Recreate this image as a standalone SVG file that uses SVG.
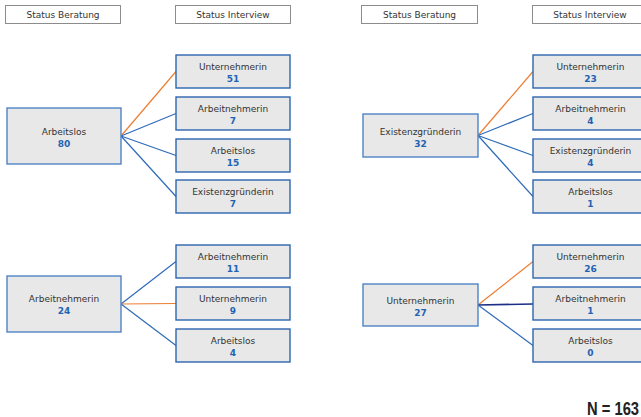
<svg xmlns="http://www.w3.org/2000/svg" width="641" height="417" viewBox="0 0 641 417">
<style>
.hdr{fill:#ffffff;stroke:#8c8c8c;stroke-width:1}
.par{fill:#e8e8e8;stroke:#4f84c4;stroke-width:1.4}
.chd{fill:#e8e8e8;stroke:#2d65b0;stroke-width:1.4}
.t{font-family:"DejaVu Sans",Verdana,sans-serif;font-size:9px;fill:#333333;text-anchor:middle}
.n{font-family:"DejaVu Sans",Verdana,sans-serif;font-size:9px;font-weight:bold;fill:#1f63b5;text-anchor:middle}
.c{fill:none;stroke-width:1.2}
.o{stroke:#ed7d31}
.b{stroke:#2e6bb8}
.d{stroke:#1c2f86;stroke-width:1.6}
</style>
<rect width="641" height="417" fill="#ffffff"/>
<g id="headers">
<g id="h1"><rect class="hdr" x="5.5" y="5.5" width="115" height="18"/><text class="t" x="63" y="17.5">Status Beratung</text></g>
<g id="h2"><rect class="hdr" x="175.5" y="5.5" width="115" height="18"/><text class="t" x="233" y="17.5">Status Interview</text></g>
<g id="h3"><rect class="hdr" x="361.5" y="5.5" width="116" height="18"/><text class="t" x="419.5" y="17.5">Status Beratung</text></g>
<g id="h4"><rect class="hdr" x="532.5" y="5.5" width="115" height="18"/><text class="t" x="590" y="17.5">Status Interview</text></g>
</g>
<g id="connectors">
<line class="c o" x1="121" y1="136" x2="176" y2="71.5"/>
<line class="c b" x1="121" y1="136" x2="176" y2="113.5"/>
<line class="c b" x1="121" y1="136" x2="176" y2="155.5"/>
<line class="c b" x1="121" y1="136" x2="176" y2="196.5"/>
<line class="c o" x1="478" y1="135.5" x2="533" y2="71.5"/>
<line class="c b" x1="478" y1="135.5" x2="533" y2="113.5"/>
<line class="c b" x1="478" y1="135.5" x2="533" y2="155.5"/>
<line class="c b" x1="478" y1="135.5" x2="533" y2="196.5"/>
<line class="c b" x1="121" y1="304" x2="176" y2="261.5"/>
<line class="c o" x1="121" y1="304" x2="176" y2="303.5"/>
<line class="c b" x1="121" y1="304" x2="176" y2="345.5"/>
<line class="c o" x1="478" y1="305" x2="533" y2="261.5"/>
<line class="c d" x1="478" y1="305" x2="533" y2="304"/>
<line class="c b" x1="478" y1="305" x2="533" y2="345.5"/>
</g>
<g id="p_arbeitslos"><rect class="par" x="7" y="108" width="114" height="56"/><text class="t" x="64" y="135">Arbeitslos</text><text class="n" x="64" y="147">80</text></g>
<g id="a_unternehmerin"><rect class="chd" x="176" y="55" width="114" height="33"/><text class="t" x="233" y="70">Unternehmerin</text><text class="n" x="233" y="81.5">51</text></g>
<g id="a_arbeitnehmerin"><rect class="chd" x="176" y="97" width="114" height="33"/><text class="t" x="233" y="112">Arbeitnehmerin</text><text class="n" x="233" y="123.5">7</text></g>
<g id="a_arbeitslos"><rect class="chd" x="176" y="139" width="114" height="33"/><text class="t" x="233" y="154">Arbeitslos</text><text class="n" x="233" y="165.5">15</text></g>
<g id="a_existenz"><rect class="chd" x="176" y="180" width="114" height="33"/><text class="t" x="233" y="195">Existenzgründerin</text><text class="n" x="233" y="206.5">7</text></g>
<g id="p_existenz"><rect class="par" x="363" y="114" width="115" height="43"/><text class="t" x="420.5" y="134.5">Existenzgründerin</text><text class="n" x="420.5" y="146.5">32</text></g>
<g id="b_unternehmerin"><rect class="chd" x="533" y="55" width="115" height="33"/><text class="t" x="590.5" y="70">Unternehmerin</text><text class="n" x="590.5" y="81.5">23</text></g>
<g id="b_arbeitnehmerin"><rect class="chd" x="533" y="97" width="115" height="33"/><text class="t" x="590.5" y="112">Arbeitnehmerin</text><text class="n" x="590.5" y="123.5">4</text></g>
<g id="b_existenz"><rect class="chd" x="533" y="139" width="115" height="33"/><text class="t" x="590.5" y="154">Existenzgründerin</text><text class="n" x="590.5" y="165.5">4</text></g>
<g id="b_arbeitslos"><rect class="chd" x="533" y="180" width="115" height="33"/><text class="t" x="590.5" y="195">Arbeitslos</text><text class="n" x="590.5" y="206.5">1</text></g>
<g id="p_arbeitnehmerin"><rect class="par" x="7" y="276" width="114" height="56"/><text class="t" x="64" y="301.5">Arbeitnehmerin</text><text class="n" x="64" y="314">24</text></g>
<g id="c_arbeitnehmerin"><rect class="chd" x="176" y="245" width="114" height="33"/><text class="t" x="233" y="260">Arbeitnehmerin</text><text class="n" x="233" y="271.5">11</text></g>
<g id="c_unternehmerin"><rect class="chd" x="176" y="287" width="114" height="33"/><text class="t" x="233" y="302">Unternehmerin</text><text class="n" x="233" y="313.5">9</text></g>
<g id="c_arbeitslos"><rect class="chd" x="176" y="329" width="114" height="33"/><text class="t" x="233" y="344">Arbeitslos</text><text class="n" x="233" y="355.5">4</text></g>
<g id="p_unternehmerin"><rect class="par" x="363" y="284" width="115" height="42"/><text class="t" x="420.5" y="303.5">Unternehmerin</text><text class="n" x="420.5" y="315.5">27</text></g>
<g id="d_unternehmerin"><rect class="chd" x="533" y="245" width="115" height="33"/><text class="t" x="590.5" y="260">Unternehmerin</text><text class="n" x="590.5" y="271.5">26</text></g>
<g id="d_arbeitnehmerin"><rect class="chd" x="533" y="287" width="115" height="33"/><text class="t" x="590.5" y="302">Arbeitnehmerin</text><text class="n" x="590.5" y="313.5">1</text></g>
<g id="d_arbeitslos"><rect class="chd" x="533" y="329" width="115" height="33"/><text class="t" x="590.5" y="344">Arbeitslos</text><text class="n" x="590.5" y="355.5">0</text></g>
<text transform="translate(587,415) scale(0.82,1)" font-family="'Liberation Sans',Arial,sans-serif" font-size="18" font-weight="bold" fill="#222222">N = 163</text>
</svg>
